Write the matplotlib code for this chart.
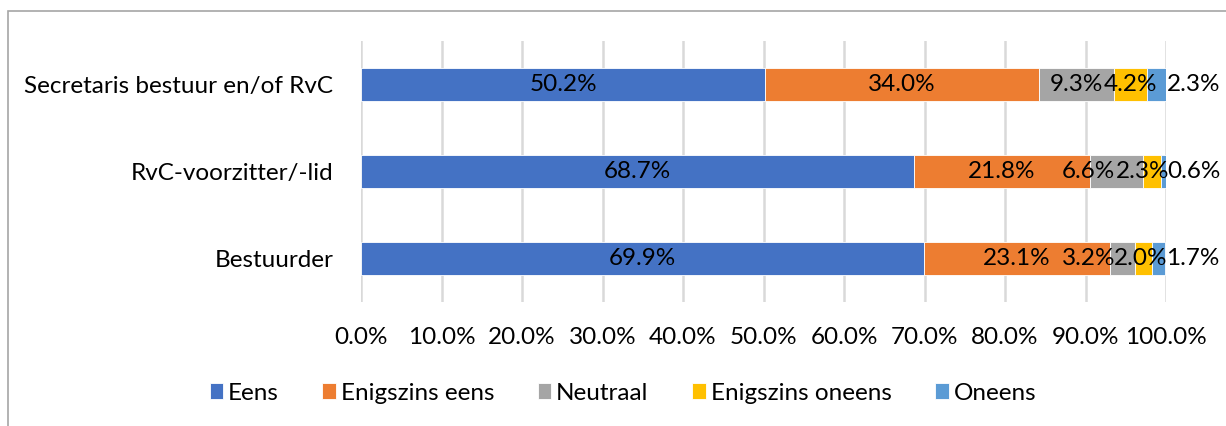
import numpy as np
import matplotlib.pyplot as plt
from matplotlib.patches import Rectangle

categories = ["Secretaris bestuur en/of RvC", "RvC-voorzitter/-lid", "Bestuurder"]
series = ["Eens", "Enigszins eens", "Neutraal", "Enigszins oneens", "Oneens"]
eens = [50.2, 68.7, 69.9]
enigszins_eens = [34.0, 21.8, 23.1]
neutraal = [9.3, 6.6, 3.2]
enigszins_oneens = [4.2, 2.3, 2.0]
oneens = [2.3, 0.6, 1.7]
xticks = [0, 10, 20, 30, 40, 50, 60, 70, 80, 90, 100]

colors = ["#4472C4", "#ED7D31", "#A5A5A5", "#FFC000", "#5B9BD5"]
# small nudges (pixels) for crowded labels, like Excel does
nudge = {(1, 2): -28, (2, 2): -34, (1, 3): -9, (2, 3): -3}

plt.rcParams['font.family'] = ['Lato', 'DejaVu Sans']
fs = 17.5

fig = plt.figure(figsize=(12.26, 4.26), dpi=100)
W, H = 1226, 426
ax = fig.add_axes([361 / W, 1 - 302 / H, (1166 - 361) / W, (302 - 41) / H])

fig.patches.append(Rectangle((8 / W, -0.1), 1.2, 1 - 11 / H + 0.1, transform=fig.transFigure,
                             fill=False, edgecolor="#A6A6A6", linewidth=1.2))

data = [eens, enigszins_eens, neutraal, enigszins_oneens, oneens]
y = np.arange(len(categories))[::-1]
left = np.zeros(len(categories))
for j, (vals, name, c) in enumerate(zip(data, series, colors)):
    vals = np.array(vals)
    ax.barh(y, vals, left=left, height=0.39, color=c, label=name,
            edgecolor="white", linewidth=0.6, zorder=3)
    for i in range(len(categories)):
        if j == len(series) - 1:
            ax.annotate(f"{vals[i]:.1f}%", (left[i] + vals[i], y[i]), xytext=(1, 0),
                        textcoords="offset pixels", ha="left", va="center",
                        fontsize=fs, color="black", zorder=5)
        else:
            ax.annotate(f"{vals[i]:.1f}%", (left[i] + vals[i] / 2, y[i]),
                        xytext=(nudge.get((i, j), 0), 0), textcoords="offset pixels",
                        ha="center", va="center", fontsize=fs, color="black", zorder=5)
    left += vals

ax.set_xlim(0, 100)
ax.set_ylim(-0.5, 2.5)
ax.set_xticks(xticks)
ax.set_xticklabels([f"{t:.1f}%" for t in xticks], fontsize=fs)
ax.set_yticks(y)
ax.set_yticklabels(categories, fontsize=fs)
ax.tick_params(length=0, pad=18, axis="x")
ax.tick_params(length=0, pad=20, axis="y")
ax.grid(axis="x", color="#D9D9D9", linewidth=1.8, zorder=0)
for s in ax.spines.values():
    s.set_visible(False)

fig.legend(loc="center", bbox_to_anchor=(0.508, 1 - 393 / H), ncol=5, frameon=False,
           fontsize=fs, handlelength=0.55, handleheight=0.65, handletextpad=0.2,
           columnspacing=1.8)

fig.savefig("out.png", dpi=100)
